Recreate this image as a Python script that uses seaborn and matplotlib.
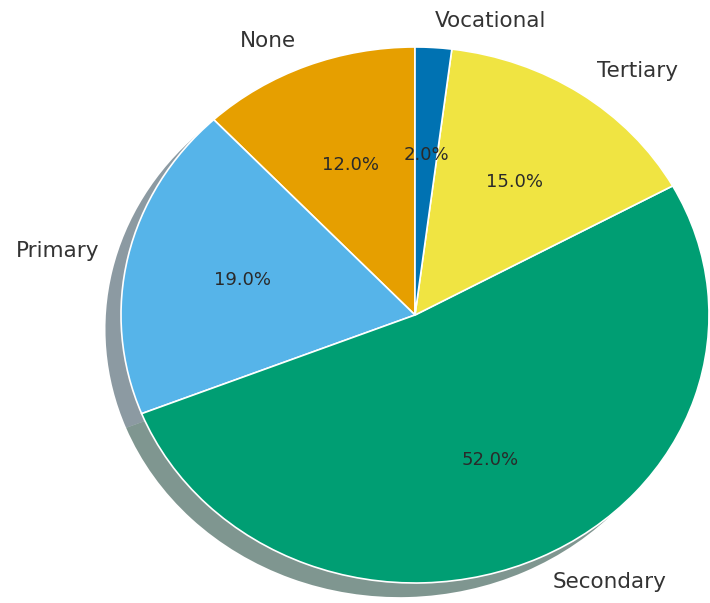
import matplotlib
matplotlib.use("Agg")
import matplotlib.pyplot as plt
import seaborn as sns

# Education level shares
categories = ["None", "Primary", "Secondary", "Tertiary", "Vocational"]
shares = [12, 19, 52, 15, 2]
slice_colors = ["#E69F00", "#56B4E9", "#009E73", "#F0E442", "#0072B2"]

sns.set_theme(style="white")
plt.rcParams["font.family"] = ["DejaVu Sans"]
palette = sns.color_palette(slice_colors)

fig = plt.figure(figsize=(7.10, 6.03), dpi=100)
ax = fig.add_axes([0, 0, 1, 1])

wedges, texts, autotexts = ax.pie(
    shares,
    labels=categories,
    colors=palette,
    autopct="%1.1f%%",
    startangle=90,
    shadow={"ox": -0.038, "oy": -0.038, "linewidth": 0},
    wedgeprops={"edgecolor": "white", "linewidth": 1.2},
    textprops={"color": "#333333", "fontsize": 15.5},
)
for t in autotexts:
    t.set_fontsize(13)
    t.set_color("#2a2a2a")

# Slightly wider than tall, filling the canvas
ax.set_aspect("auto")
cx, cy, rx, ry = 415, 315, 294, 268
ax.set_xlim(-cx / rx, (710 - cx) / rx)
ax.set_ylim(-(603 - cy) / ry, cy / ry)
ax.axis("off")

fig.savefig("out.png", dpi=100, facecolor="white")
